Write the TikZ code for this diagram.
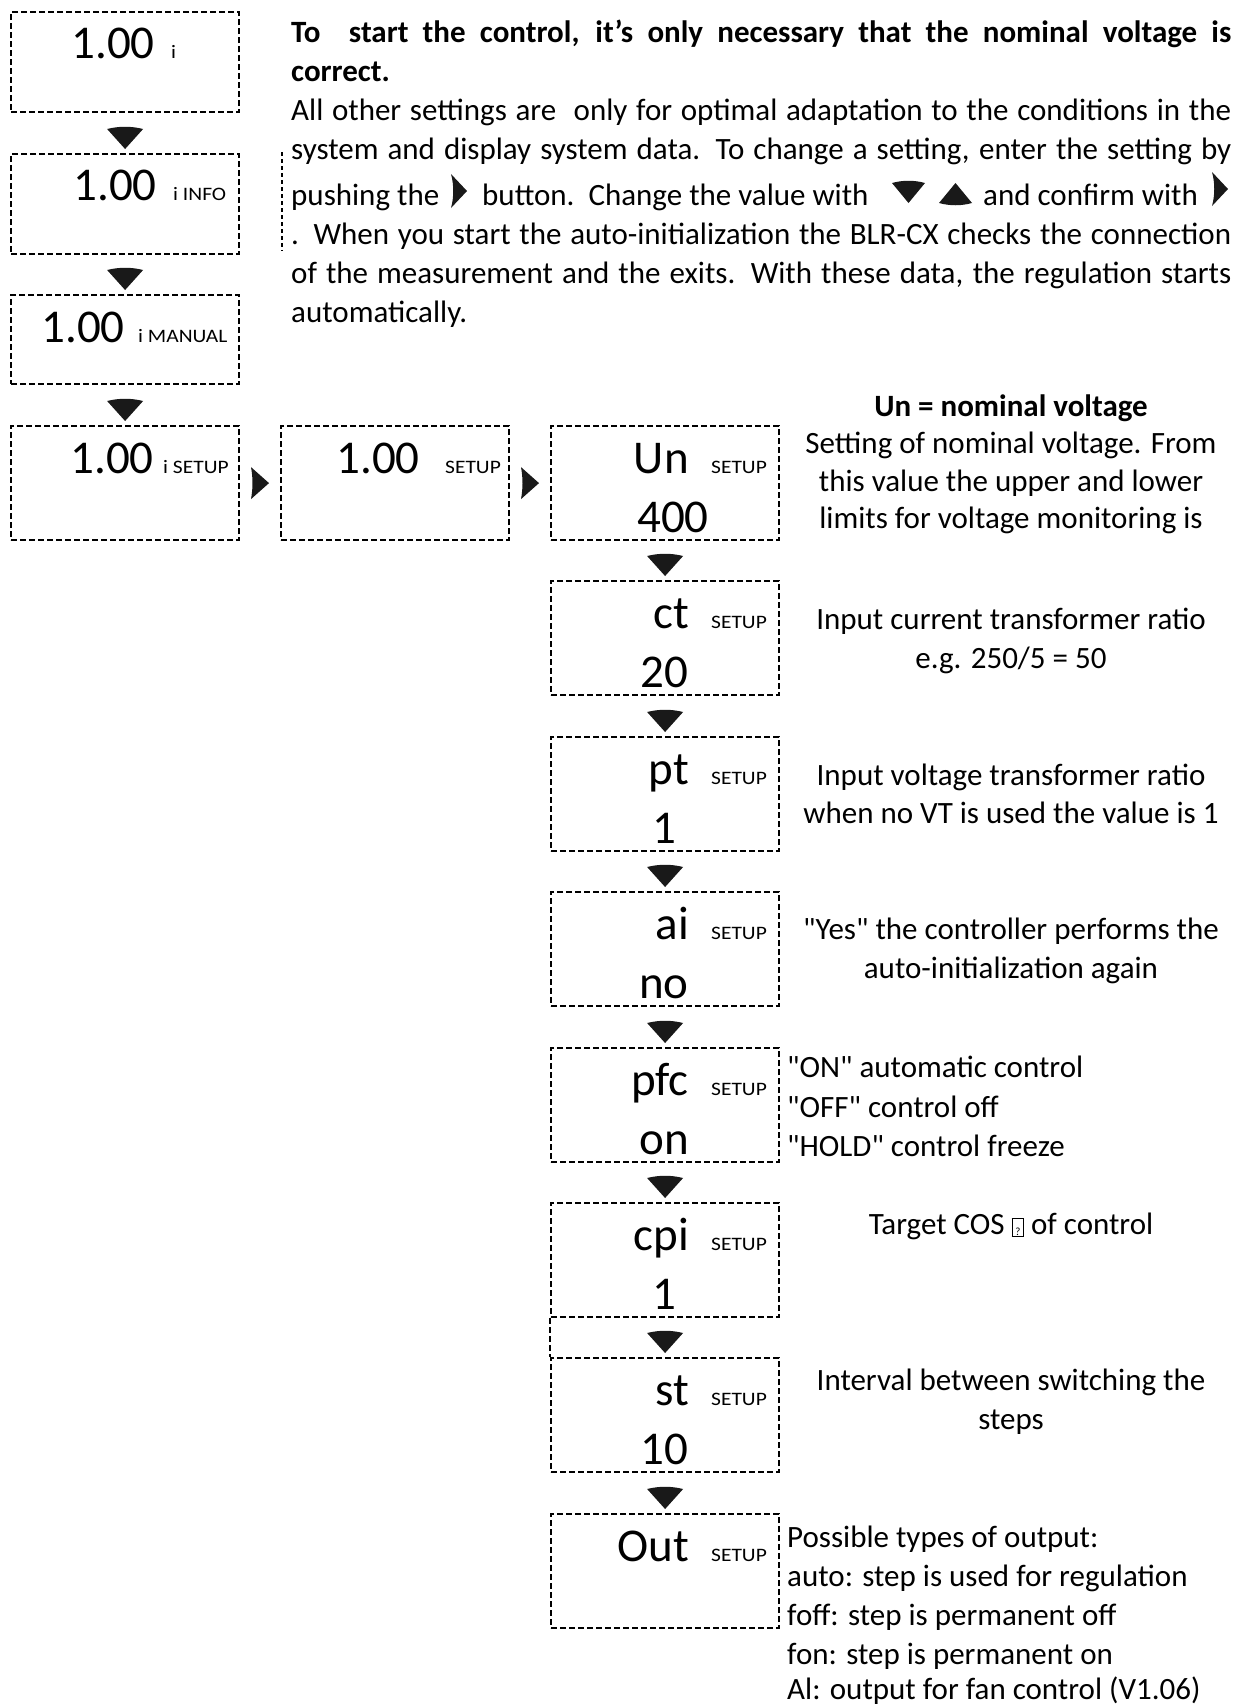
\documentclass[tikz,border=0pt]{standalone}
\usepackage{fontspec}
\setmainfont{Carlito}[Ligatures=TeXOff]
\newfontfamily\tagfont[FakeStretch=1.13]{Carlito}
\usetikzlibrary{calc}
\newcommand\tofu{{\setlength\fboxsep{1pt}\setlength\fboxrule{0.7pt}\raisebox{-1pt}{\fbox{\rule{0pt}{15pt}\makebox[9pt]{\fontsize{11}{11}\selectfont ?}}}}}
\newcommand\jl[1]{\makebox[940pt][s]{#1}}
\newcommand\dtri[1]{\fill[tri] ($(#1.north)+(-18,-24)$) .. controls ($(#1.north)+(-6,-27)$) and ($(#1.north)+(6,-27)$) .. ($(#1.north)+(18,-24)$) -- ($(#1.north)+(0,-4)$) -- cycle;}
\newcommand\rtri[1]{\fill[tri] ($(#1.west)+(-29,-16)$) -- ($(#1.west)+(-11,0)$) -- ($(#1.west)+(-29,16)$) .. controls ($(#1.west)+(-27,5)$) and ($(#1.west)+(-27,-5)$) .. ($(#1.west)+(-29,-16)$) -- cycle;}
\begin{document}
\begin{tikzpicture}[x=1pt,y=-1pt,
  dbox/.style={draw, rectangle, line width=2.2pt, dash pattern=on 6pt off 3pt, minimum width=228pt, inner sep=0pt, anchor=north west},
  big/.style={font=\fontsize{47}{47}\selectfont, inner sep=0pt, anchor=base east},
  bigv/.style={font=\fontsize{47}{47}\selectfont, inner sep=0pt, anchor=base},
  tag/.style={font={\tagfont\fontsize{19}{19}\selectfont}, inner sep=0pt, anchor=base west},
  desc/.style={font=\fontsize{31}{31}\selectfont, inner sep=0pt, anchor=base},
  descl/.style={font=\fontsize{31}{31}\selectfont, inner sep=0pt, anchor=base west},
  para/.style={font=\fontsize{31}{31}\selectfont, inner sep=0pt, anchor=base west},
  tri/.style={fill=black!90}]
\useasboundingbox (0,0) rectangle (1246,1706);
\fill[white] (0,0) rectangle (1246,1706);

% left column
\node[dbox, minimum height=100pt] (b1) at (10,11) {};
\node[dbox, minimum height=100pt] (b2) at (10,153) {};
\node[dbox, minimum height=89pt] (b3) at (10,294) {};
\node[dbox, minimum height=114pt] (b4) at (10,425) {};
\node[dbox, minimum height=114pt] (b5) at (280,425) {};
% setup column
\node[dbox, minimum height=114pt] (un) at (550,425) {};
\node[dbox, minimum height=114pt] (ct) at (550,580) {};
\node[dbox, minimum height=114pt] (pt) at (550,736) {};
\node[dbox, minimum height=114pt] (ai) at (550,891) {};
\node[dbox, minimum height=114pt] (pfc) at (550,1047) {};
\node[dbox, minimum height=114pt] (cpi) at (550,1202) {};
\node[dbox, minimum height=114pt] (st) at (550,1357) {};
\node[dbox, minimum height=114pt] (out) at (550,1513) {};
\draw[line width=2.2pt, dash pattern=on 6pt off 3pt] (cpi.south west) -- (st.north west);

% labels left column
\node[big] (b1l) at ($(b1.north west)+(145,47)$) {1.00};
\node[tag] (b1t) at ($(b1.north west)+(161,47)$) {i};
\node[big] (b2l) at ($(b2.north west)+(147,47)$) {1.00};
\node[tag] (b2t) at ($(b2.north west)+(163,47)$) {i INFO};
\node[big] (b3l) at ($(b3.north west)+(115,48)$) {1.00};
\node[tag] (b3t) at ($(b3.north west)+(128,48)$) {i MANUAL};
\node[big] (b4l) at ($(b4.north west)+(144,48)$) {1.00};
\node[tag] (b4t) at ($(b4.north west)+(153,48)$) {i SETUP};
\node[big] (b5l) at ($(b5.north west)+(140,48)$) {1.00};
\node[tag] (b5t) at ($(b5.north west)+(165,48)$) {SETUP};

% labels setup column
\foreach \b/\l/\v in {un/Un/, ct/ct/20, pt/pt/1, ai/ai/no, pfc/pfc/on, cpi/cpi/1, st/st/10, out/Out/}{
  \node[big] (\b l) at ($(\b.north west)+(139,48)$) {\l};
  \node[tag] (\b t) at ($(\b.north west)+(161,48)$) {SETUP};
  \node[bigv] (\b v) at ($(\b.north west)+(114,107)$) {\v};
}
\node[bigv] (unv2) at ($(un.north west)+(123,107)$) {400};

% triangles
\dtri{b2}
\dtri{b3}
\dtri{b4}
\rtri{b5}
\rtri{un}
\dtri{ct}
\dtri{pt}
\dtri{ai}
\dtri{pfc}
\dtri{cpi}
\dtri{st}
\dtri{out}

% paragraph
\node[para] (p1) at (291,42) {\bfseries\jl{To\ \ start the control, it’s only necessary that the nominal voltage is}};
\node[para] (p2) at (291,81) {\bfseries correct.};
\node[para] (p3) at (291,120) {\jl{All other settings are\ \ only for optimal adaptation to the conditions in the}};
\node[para] (p4) at (291,159) {\jl{system and display system data. To change a setting, enter the setting by}};
\node[para] (p5a) at (291,205) {pushing the};
\node[para] (p5b) at (482,205) {button.\ \ Change the value with};
\node[para] (p5c) at (983,205) {and confirm with};
\node[para] (p6) at (291,244) {\jl{. When you start the auto-initialization the BLR-CX checks the connection}};
\node[para] (p7) at (291,283) {\jl{of the measurement and the exits. With these data, the regulation starts}};
\node[para] (p8) at (291,322) {automatically.};
\fill[tri] (451,174) -- (467,191) -- (451,208) .. controls (454,197) and (454,185) .. (451,174) -- cycle;
\fill[tri] (892,183) .. controls (903,180) and (914,180) .. (925,183) -- (908.5,203) -- cycle;
\fill[tri] (955.5,183) -- (972,203) .. controls (961,206) and (950,206) .. (939,203) -- cycle;
\fill[tri] (1212,172) -- (1228,189) -- (1212,206) .. controls (1215,195) and (1215,183) .. (1212,172) -- cycle;
\draw[line width=1.2pt, dash pattern=on 4pt off 3pt] (282,152) -- (282,251);

% descriptions
\node[desc, font=\fontsize{31}{31}\selectfont\bfseries] (d1) at (1011,416) {Un = nominal voltage};
\node[desc] (d2) at (1011,453) {Setting of nominal voltage. From};
\node[desc] (d3) at (1011,491) {this value the upper and lower};
\node[desc] (d4) at (1011,528) {limits for voltage monitoring is};
\node[desc] (d5) at (1011,629) {Input current transformer ratio};
\node[desc] (d6) at (1011,668) {e.g. 250/5 = 50};
\node[desc] (d7) at (1011,785) {Input voltage transformer ratio};
\node[desc] (d8) at (1011,823) {when no VT is used the value is 1};
\node[desc] (d9) at (1011,939) {"Yes" the controller performs the};
\node[desc] (d10) at (1011,978) {auto-initialization again};
\node[descl] (d11) at (787,1077) {"ON" automatic control};
\node[descl] (d12) at (787,1117) {"OFF" control off};
\node[descl] (d13) at (787,1156) {"HOLD" control freeze};
\node[desc] (d14) at (1011,1234) {Target COS \tofu{} of control};
\node[desc] (d15) at (1011,1390) {Interval between switching the};
\node[desc] (d16) at (1011,1429) {steps};
\node[descl] (d17) at (787,1547) {Possible types of output:};
\node[descl] (d18) at (787,1586) {auto: step is used for regulation};
\node[descl] (d19) at (787,1625) {foff: step is permanent off};
\node[descl] (d20) at (787,1664) {fon: step is permanent on};
\node[descl] (d21) at (787,1699) {Al: output for fan control (V1.06)};
\end{tikzpicture}
\end{document}
